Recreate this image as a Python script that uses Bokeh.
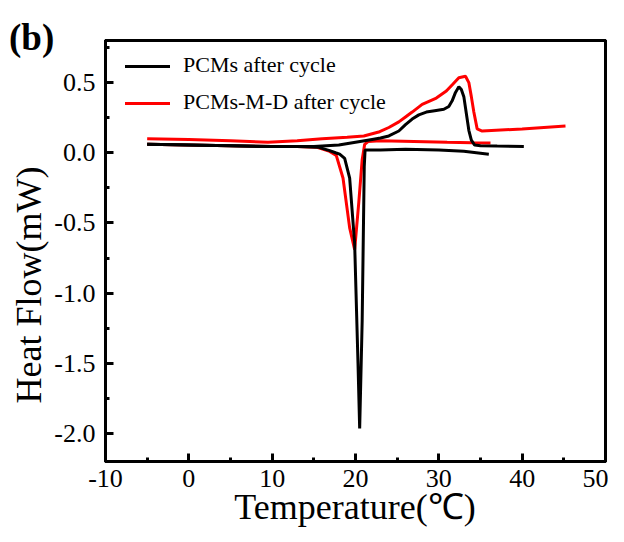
from bokeh.plotting import figure
from bokeh.models import Range1d, FixedTicker, NumeralTickFormatter, Div
from bokeh.layouts import column
from bokeh.embed import file_html
from bokeh.resources import INLINE

# PCMs after cycle - heating branch
pcm_heat_x = [-5, 0, 5, 10, 15, 18, 20, 22, 23, 24, 25.2, 26, 26.8, 27.6, 28.5, 29.5, 30.6, 31.2, 31.6, 32.0, 32.4, 32.7, 33.0, 33.3, 33.6, 33.9, 34.3, 35, 37, 40.2]
pcm_heat_y = [0.06, 0.055, 0.05, 0.045, 0.045, 0.055, 0.075, 0.095, 0.105, 0.12, 0.155, 0.2, 0.24, 0.27, 0.29, 0.3, 0.31, 0.33, 0.37, 0.43, 0.47, 0.45, 0.40, 0.28, 0.16, 0.09, 0.055, 0.05, 0.048, 0.045]
# PCMs after cycle - cooling branch
pcm_cool_x = [-5, 0, 5, 10, 13, 15.5, 16.9, 17.6, 18.1, 18.7, 19.3, 19.9, 20.3, 20.5, 20.8, 21.05, 21.15, 23, 26, 30, 33, 34.5, 36]
pcm_cool_y = [0.06, 0.055, 0.05, 0.045, 0.045, 0.04, 0.015, 0.0, -0.01, -0.04, -0.18, -0.65, -1.5, -1.965, -1.2, -0.1, 0.02, 0.02, 0.025, 0.02, 0.01, 0.0, -0.01]
# PCMs-M-D after cycle - heating branch
md_heat_x = [-5, 0, 5, 9.5, 13, 16, 19, 21, 22.9, 24, 25.2, 26, 26.8, 28, 29.7, 30.9, 31.7, 32.4, 33.2, 33.6, 33.9, 34.2, 34.6, 35.2, 40, 45.2]
md_heat_y = [0.1, 0.095, 0.085, 0.075, 0.085, 0.1, 0.11, 0.12, 0.15, 0.18, 0.22, 0.255, 0.29, 0.345, 0.39, 0.44, 0.49, 0.535, 0.545, 0.5, 0.4, 0.29, 0.17, 0.155, 0.17, 0.19]
# PCMs-M-D after cycle - cooling branch
md_cool_x = [-5, 0, 5, 10, 13, 15.3, 16.9, 17.7, 18.5, 19.3, 19.9, 20.4, 20.8, 21.1, 21.5, 23, 27, 31, 34, 36.2]
md_cool_y = [0.06, 0.055, 0.05, 0.045, 0.045, 0.04, 0.01, -0.02, -0.18, -0.535, -0.69, -0.35, -0.05, 0.06, 0.08, 0.085, 0.08, 0.075, 0.072, 0.07]

x_ticks = [-10, 0, 10, 20, 30, 40, 50]
x_minor = [-5, 5, 15, 25, 35, 45]
y_ticks = [-2.0, -1.5, -1.0, -0.5, 0.0, 0.5]
y_minor = [-1.75, -1.25, -0.75, -0.25, 0.25, 0.75]

x_label = "Temperature(\u2103)"
y_label = "Heat Flow(mW)"
panel_label = "(b)"
series_names = ["PCMs after cycle", "PCMs-M-D after cycle"]
series_colors = ["black", "#ff0000"]

X0, X1 = -10, 50
Y0, Y1 = -2.2, 0.8
SERIF = "Liberation Serif"

W, H = 608, 526
ML, MR, MT, MB = 105, 3, 40, 65

xr = Range1d(X0, X1)
yr = Range1d(Y0, Y1)


def make_fig():
    f = figure(width=W, height=H, output_backend="svg", toolbar_location=None,
               x_range=xr, y_range=yr,
               min_border_left=ML, min_border_right=MR, min_border_top=MT, min_border_bottom=MB)
    f.xgrid.visible = False
    f.ygrid.visible = False
    f.xaxis.ticker = FixedTicker(ticks=x_ticks, minor_ticks=x_minor)
    f.yaxis.ticker = FixedTicker(ticks=y_ticks, minor_ticks=y_minor)
    return f


# main figure: curves and tick labels
p = make_fig()
p.outline_line_color = "black"
p.outline_line_width = 3
for ax in (p.xaxis[0], p.yaxis[0]):
    ax.axis_line_color = None
    ax.major_tick_line_color = None
    ax.minor_tick_line_color = None
    ax.major_tick_in = 0
    ax.major_tick_out = 0
    ax.minor_tick_in = 0
    ax.minor_tick_out = 0
    ax.major_label_text_font = SERIF
    ax.major_label_text_font_size = "26px"
    ax.major_label_text_color = "black"
p.xaxis.formatter = NumeralTickFormatter(format="0")
p.yaxis.formatter = NumeralTickFormatter(format="0.0")
p.xaxis.major_label_standoff = 8
p.yaxis.major_label_standoff = 10

p.line(md_heat_x, md_heat_y, line_color=series_colors[1], line_width=3)
p.line(md_cool_x, md_cool_y, line_color=series_colors[1], line_width=3)
p.line(pcm_heat_x, pcm_heat_y, line_color=series_colors[0], line_width=3)
p.line(pcm_cool_x, pcm_cool_y, line_color=series_colors[0], line_width=3)

# transparent twin figure on top: frame and inward tick marks
q = make_fig()
q.background_fill_color = None
q.border_fill_color = None
q.outline_line_color = "black"
q.outline_line_width = 3
for ax in (q.xaxis[0], q.yaxis[0]):
    ax.axis_line_color = "black"
    ax.axis_line_width = 3
    ax.major_tick_in = 8
    ax.major_tick_out = 0
    ax.minor_tick_in = 4
    ax.minor_tick_out = 0
    ax.major_tick_line_width = 3
    ax.minor_tick_line_width = 3
    ax.major_tick_line_color = "black"
    ax.minor_tick_line_color = "black"
    ax.major_label_text_font_size = "0px"
    ax.major_label_standoff = 0
q.margin = (-H, 0, 0, 0)

# axis titles, legend and panel tag as an HTML overlay on top of the figure
frame_cx = (ML + (W - MR)) / 2
legend_rows = [66, 103]
legend_html = ""
for name, color, cy in zip(series_names, series_colors, legend_rows):
    legend_html += (
        f'<div style="position:absolute;left:{ML + 20}px;top:{cy - 1.5}px;width:45px;height:3px;'
        f'background:{color};"></div>'
        f'<span style="position:absolute;left:{ML + 78}px;top:{cy - 13}px;font-size:22px;'
        f'line-height:24px;white-space:nowrap;">{name}</span>'
    )

overlay_html = (
    f'<div style="position:relative;width:{W}px;height:{H}px;'
    f'font-family:\'{SERIF}\',serif;color:black;">'
    f'<span style="position:absolute;left:9px;top:17px;font-size:37px;font-weight:bold;'
    f'line-height:41px;white-space:nowrap;">{panel_label}</span>'
    f'<span style="position:absolute;left:{frame_cx}px;top:487px;font-size:36px;'
    f'line-height:40px;white-space:nowrap;transform:translateX(-50%);">{x_label}</span>'
    f'<span style="position:absolute;left:29px;top:285px;font-size:36px;line-height:40px;'
    f'white-space:nowrap;transform:translate(-50%,-50%) rotate(-90deg);">{y_label}</span>'
    f'{legend_html}'
    f'</div>'
)
overlay = Div(text=overlay_html, width=W, height=H, margin=(-H, 0, 0, 0))

layout = column(p, q, overlay)
open("out.html", "w").write(file_html(layout, INLINE))
